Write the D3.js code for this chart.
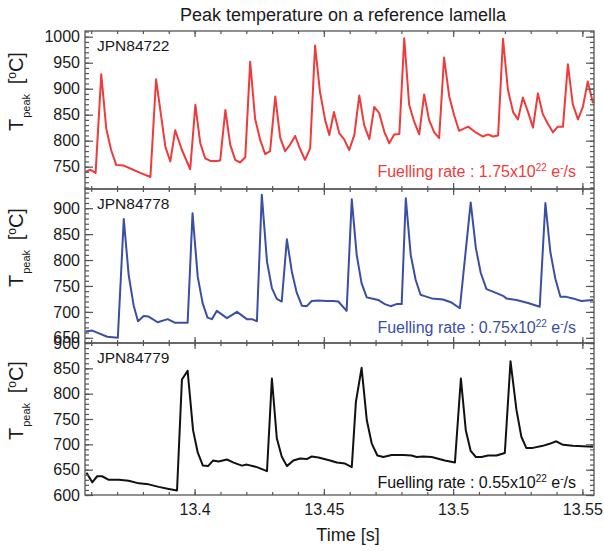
<!DOCTYPE html>
<html>
<head>
<meta charset="utf-8">
<script src="https://cdn.jsdelivr.net/npm/d3@7"></script>
<style>
  body { margin: 0; background: #fff; }
  svg text { font-family: "Liberation Sans", Arial, Helvetica, sans-serif; }
</style>
</head>
<body>
<script>
// ---- data ----
const chartTitle = "Peak temperature on a reference lamella";
const xLabel = "Time [s]";
const xDomain = [13.3576, 13.5545];
const xTickValues = [13.4, 13.45, 13.5, 13.55];
const xTickLabels = ["13.4", "13.45", "13.5", "13.55"];

const shotNames = ["JPN84722", "JPN84778", "JPN84779"];
const fuellingRates = ["1.75", "0.75", "0.55"];
const seriesColors = ["#ef3b3b", "#3a4ea6", "#111111"];

// JPN84722, fuelling 1.75e22
const timeA = [13.3578, 13.3597, 13.3617, 13.3639, 13.3658, 13.3677, 13.3697, 13.3726, 13.3758, 13.3790,
  13.3829, 13.3851, 13.3887, 13.3906, 13.3925, 13.3951, 13.3983, 13.4003, 13.4022, 13.4041,
  13.4061, 13.4086, 13.4099, 13.4119, 13.4138, 13.4157, 13.4176, 13.4196, 13.4215, 13.4234,
  13.4254, 13.4273, 13.4292, 13.4312, 13.4331, 13.4350, 13.4369, 13.4389, 13.4408, 13.4427,
  13.4447, 13.4466, 13.4485, 13.4505, 13.4521, 13.4539, 13.4560, 13.4578, 13.4598, 13.4618,
  13.4637, 13.4656, 13.4676, 13.4695, 13.4714, 13.4734, 13.4753, 13.4772, 13.4792, 13.4811,
  13.4830, 13.4849, 13.4869, 13.4888, 13.4907, 13.4927, 13.4946, 13.4965, 13.4985, 13.5004,
  13.5023, 13.5058, 13.5084, 13.5116, 13.5135, 13.5154, 13.5174, 13.5193, 13.5212, 13.5232,
  13.5251, 13.5270, 13.5290, 13.5309, 13.5328, 13.5347, 13.5367, 13.5386, 13.5405, 13.5425,
  13.5444, 13.5463, 13.5483, 13.5502, 13.5521, 13.5541];
const tempA = [740, 744, 738, 928, 824, 782, 753, 752, 745, 738,
  730, 918, 788, 760, 820, 782, 745, 869, 795, 766,
  761, 761, 762, 859, 792, 763, 758, 768, 952, 842,
  801, 774, 780, 885, 806, 780, 792, 809, 784, 763,
  785, 983, 894, 840, 811, 855, 814, 803, 782, 811,
  887, 830, 803, 865, 853, 817, 795, 812, 813, 997,
  869, 837, 812, 889, 840, 816, 805, 960, 885, 849,
  819, 827, 817, 808, 812, 808, 810, 996, 898, 855,
  841, 883, 855, 825, 891, 851, 832, 816, 827, 827,
  947, 870, 841, 865, 914, 872];

// JPN84778, fuelling 0.75e22
const timeB = [13.3578, 13.3604, 13.3623, 13.3662, 13.3703, 13.3726, 13.3745, 13.3764, 13.3781, 13.3803,
  13.3822, 13.3857, 13.3896, 13.3925, 13.3973, 13.3992, 13.4012, 13.4031, 13.4050, 13.4067,
  13.4086, 13.4125, 13.4164, 13.4202, 13.4222, 13.4241, 13.4260, 13.4280, 13.4299, 13.4318,
  13.4337, 13.4357, 13.4376, 13.4395, 13.4415, 13.4434, 13.4453, 13.4479, 13.4511, 13.4537,
  13.4556, 13.4588, 13.4608, 13.4627, 13.4646, 13.4666, 13.4685, 13.4710, 13.4736, 13.4758,
  13.4781, 13.4801, 13.4817, 13.4836, 13.4855, 13.4874, 13.4893, 13.4917, 13.4961, 13.4994,
  13.5026, 13.5068, 13.5088, 13.5107, 13.5129, 13.5154, 13.5193, 13.5206, 13.5245, 13.5290,
  13.5335, 13.5357, 13.5376, 13.5395, 13.5415, 13.5438, 13.5463, 13.5496, 13.5541];
const tempB = [662, 664, 660, 652, 650, 879, 771, 713, 682, 692,
  691, 680, 686, 679, 679, 890, 768, 717, 689, 686,
  702, 688, 700, 686, 686, 682, 926, 797, 746, 725,
  720, 840, 778, 737, 712, 711, 721, 722, 721, 721,
  720, 702, 917, 810, 755, 728, 726, 723, 715, 711,
  715, 715, 919, 810, 762, 733, 730, 726, 724, 718,
  707, 911, 823, 775, 744, 739, 731, 726, 723, 717,
  710, 910, 816, 765, 729, 729, 726, 721, 723];

// JPN84779, fuelling 0.55e22
const timeC = [13.3582, 13.3604, 13.3623, 13.3642, 13.3668, 13.3707, 13.3745, 13.3784, 13.3822, 13.3861,
  13.3900, 13.3932, 13.3951, 13.3973, 13.3994, 13.4012, 13.4032, 13.4052, 13.4071, 13.4093,
  13.4125, 13.4151, 13.4183, 13.4202, 13.4241, 13.4280, 13.4299, 13.4318, 13.4337, 13.4357,
  13.4382, 13.4408, 13.4434, 13.4453, 13.4479, 13.4524, 13.4550, 13.4582, 13.4608, 13.4624,
  13.4646, 13.4666, 13.4685, 13.4707, 13.4730, 13.4762, 13.4807, 13.4839, 13.4859, 13.4884,
  13.4917, 13.4968, 13.5007, 13.5030, 13.5049, 13.5068, 13.5088, 13.5110, 13.5135, 13.5168,
  13.5200, 13.5222, 13.5245, 13.5264, 13.5283, 13.5309, 13.5347, 13.5373, 13.5399, 13.5425,
  13.5463, 13.5502, 13.5541];
const tempC = [644, 625, 637, 637, 630, 630, 628, 623, 621, 616,
  612, 609, 828, 845, 728, 684, 658, 657, 668, 666,
  670, 664, 658, 660, 655, 647, 830, 712, 676, 657,
  668, 672, 671, 676, 674, 668, 664, 662, 655, 784,
  851, 748, 702, 678, 675, 679, 679, 678, 675, 676,
  675, 668, 664, 830, 728, 687, 675, 675, 678, 678,
  683, 864, 768, 715, 693, 693, 697, 701, 706, 699,
  697, 696, 695];

// y ranges and labelled ticks of the three panels
const yDomains = [[707, 1011], [640, 937], [600, 900]];
const yTicksA = [750, 800, 850, 900, 950, 1000];
const yTicksB = [650, 700, 750, 800, 850, 900];
const yTicksC = [600, 650, 700, 750, 800, 850, 900];

// ---- layout ----
const W = 604, H = 551;
const plotLeft = 85, plotRight = 594;
const panelBox = [[31, 189], [189, 343], [343, 495]];
const rateBaseline = [177, 333, 488];
const frameColor = "#555";

const svg = d3.select("body").append("svg")
    .attr("width", W)
    .attr("height", H);

const x = d3.scaleLinear().domain(xDomain).range([plotLeft, plotRight]);
const xMinor = d3.range(1336, 1356).map(d => d / 100);

const panels = [
  { t: timeA, v: tempA, ticks: yTicksA },
  { t: timeB, v: tempB, ticks: yTicksB },
  { t: timeC, v: tempC, ticks: yTicksC }
];

panels.forEach((p, i) => {
  const [top, bottom] = panelBox[i];
  const y = d3.scaleLinear().domain(yDomains[i]).range([bottom, top]);
  const yMinor = d3.range(Math.ceil(yDomains[i][0] / 10) * 10, yDomains[i][1] + 0.1, 10);
  const color = seriesColors[i];
  const g = svg.append("g");

  // the series
  const line = d3.line()
      .x(d => x(d[0]))
      .y(d => y(d[1]));
  g.append("path")
      .datum(d3.zip(p.t, p.v))
      .attr("fill", "none")
      .attr("stroke", color)
      .attr("stroke-width", 2)
      .attr("stroke-linejoin", "round")
      .attr("d", line);

  // inward ticks on all four sides
  function addAxis(axis, transform) {
    const a = g.append("g")
        .attr("transform", transform)
        .call(axis);
    a.select(".domain").remove();
    a.selectAll("line").attr("stroke", frameColor).attr("stroke-width", 1.2);
    a.attr("font-size", 16).attr("font-family", null);
    a.selectAll("text").attr("fill", "#1a1a1a");
    return a;
  }
  addAxis(d3.axisLeft(y).tickValues(yMinor).tickSize(-4).tickFormat(""), `translate(${plotLeft},0)`);
  addAxis(d3.axisLeft(y).tickValues(p.ticks).tickSize(-8).tickPadding(5).tickFormat(d3.format("d")), `translate(${plotLeft},0)`);
  addAxis(d3.axisRight(y).tickValues(yMinor).tickSize(-4).tickFormat(""), `translate(${plotRight},0)`);
  addAxis(d3.axisRight(y).tickValues(p.ticks).tickSize(-8).tickFormat(""), `translate(${plotRight},0)`);
  addAxis(d3.axisTop(x).tickValues(xMinor).tickSize(-3).tickFormat(""), `translate(0,${top})`);
  addAxis(d3.axisTop(x).tickValues(xTickValues).tickSize(-6).tickFormat(""), `translate(0,${top})`);
  addAxis(d3.axisBottom(x).tickValues(xMinor).tickSize(-3).tickFormat(""), `translate(0,${bottom})`);
  addAxis(d3.axisBottom(x).tickValues(xTickValues).tickSize(-6).tickPadding(9)
      .tickFormat(i === 2 ? (d, j) => xTickLabels[j] : ""), `translate(0,${bottom})`);

  // frame
  g.append("rect")
      .attr("x", plotLeft)
      .attr("y", top)
      .attr("width", plotRight - plotLeft)
      .attr("height", bottom - top)
      .attr("fill", "none")
      .attr("stroke", frameColor)
      .attr("stroke-width", 1.3);

  // shot name
  g.append("text")
      .attr("x", 97)
      .attr("y", top + 20)
      .attr("font-size", 15.5)
      .attr("fill", "#1a1a1a")
      .text(shotNames[i]);

  // fuelling rate
  const rate = g.append("text")
      .attr("x", 576)
      .attr("y", rateBaseline[i])
      .attr("text-anchor", "end")
      .attr("font-size", 16)
      .attr("fill", color);
  rate.append("tspan").text("Fuelling rate : " + fuellingRates[i] + "x10");
  rate.append("tspan").attr("font-size", 10).attr("dy", -6).text("22");
  rate.append("tspan").attr("dy", 6).text(" e");
  rate.append("tspan").attr("font-size", 10).attr("dy", -6).text("-");
  rate.append("tspan").attr("dy", 6).text("/s");

  // y label
  const yl = g.append("text")
      .attr("transform", `translate(23,${(top + bottom) / 2 + 21}) rotate(-90)`)
      .attr("font-size", 20)
      .attr("fill", "#1a1a1a");
  yl.append("tspan").text("T");
  yl.append("tspan").attr("font-size", 11).attr("dy", 7).attr("dx", 1).text("peak");
  yl.append("tspan").attr("dy", -7).attr("dx", 4).text(" [");
  yl.append("tspan").attr("font-size", 12).attr("dy", -7).text("o");
  yl.append("tspan").attr("dy", 7).text("C]");
});

// title and x label
svg.append("text")
    .attr("x", 343)
    .attr("y", 21)
    .attr("text-anchor", "middle")
    .attr("font-size", 18)
    .attr("fill", "#1a1a1a")
    .text(chartTitle);

svg.append("text")
    .attr("x", 348)
    .attr("y", 541)
    .attr("text-anchor", "middle")
    .attr("font-size", 18)
    .attr("fill", "#1a1a1a")
    .text(xLabel);
</script>
</body>
</html>
